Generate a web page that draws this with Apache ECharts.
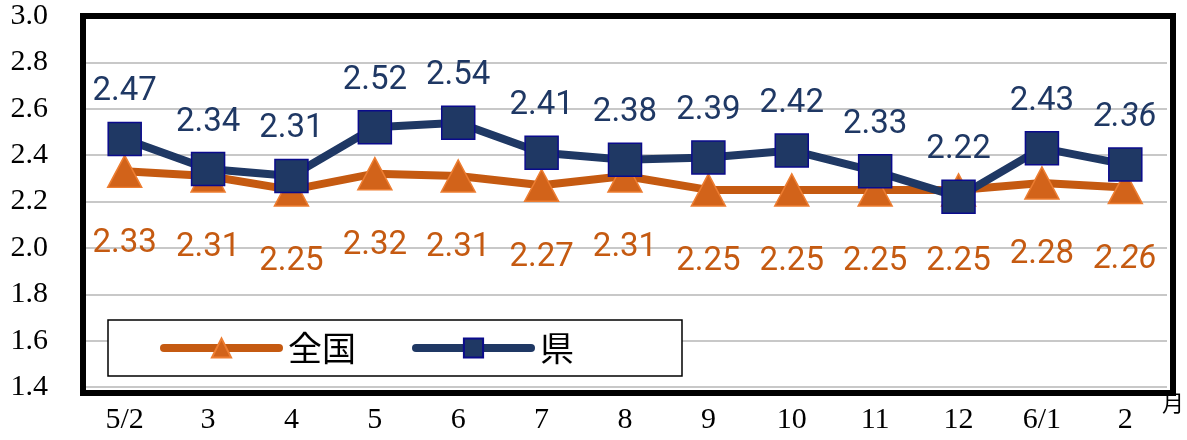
<!DOCTYPE html>
<html><head><meta charset="utf-8">
<script src="https://cdn.jsdelivr.net/npm/echarts@6/dist/echarts.min.js"></script>
<style>html,body{margin:0;padding:0;background:#fff}#c{width:1187px;height:440px}</style>
</head><body><div id="c"></div>
<script>
const categories = ['5/2','3','4','5','6','7','8','9','10','11','12','6/1','2'];
const nationalValues = [2.33,2.31,2.25,2.32,2.31,2.27,2.31,2.25,2.25,2.25,2.25,2.28,2.26];
const prefValues = [2.47,2.34,2.31,2.52,2.54,2.41,2.38,2.39,2.42,2.33,2.22,2.43,2.36];
const yTicks = {min:1.4, max:3.0, interval:0.2};
const seriesNames = ['全国','県'];

const ORANGE = '#C55A11', BLUE = '#1F3864';
const LABEL_FONT = 'Roboto';
function items(vals){
  return vals.map((v,i)=> i===vals.length-1 ? {value:v, label:{fontStyle:'italic'}} : v);
}
const chart = echarts.init(document.getElementById('c'));
chart.setOption({
  animation:false,
  grid:{left:83,right:20,top:16,bottom:53,show:false},
  xAxis:{type:'category',data:categories,boundaryGap:true,
    axisLine:{show:false},axisTick:{show:false},
    axisLabel:{margin:18,color:'#000',fontFamily:'Liberation Serif',fontSize:30}},
  yAxis:{type:'value',min:yTicks.min,max:yTicks.max,interval:yTicks.interval,
    axisLine:{show:false},axisTick:{show:false},
    splitLine:{lineStyle:{color:'#c8c8c8',width:2}},
    axisLabel:{margin:35,color:'#000',fontFamily:'Liberation Serif',fontSize:30,formatter:v=>v.toFixed(1)}},
  legend:{left:108,top:320,orient:'horizontal',
    backgroundColor:'#fff',borderColor:'#000',borderWidth:1.5,
    padding:[11,108,11,52],itemGap:56,itemWidth:115,itemHeight:24,
    lineStyle:{width:8,cap:'round'},
    textStyle:{fontFamily:'Noto Sans CJK JP',fontSize:34,color:'#000',fontWeight:'normal',padding:[0,0,0,4]},
    data:seriesNames},
  graphic:[
    {type:'rect',left:80,top:13,z:100,silent:true,
     shape:{width:1090,height:377},
     style:{fill:'none',stroke:'#000',lineWidth:6}},
    {type:'text',left:1162,top:392,style:{text:'月',fontFamily:'Noto Sans CJK JP',fontSize:22,fill:'#000'}}],
  series:[
    {name:seriesNames[0],type:'line',data:items(nationalValues),
     lineStyle:{color:ORANGE,width:8,cap:'round'},
     symbol:'triangle',symbolSize:[34,32],
     itemStyle:{color:'#D2631A',borderColor:'#ED7D31',borderWidth:1.5},
     label:{show:true,position:'bottom',distance:39,color:ORANGE,fontFamily:LABEL_FONT,fontSize:33,formatter:p=>p.value.toFixed(2)},
     z:2},
    {name:seriesNames[1],type:'line',data:items(prefValues),
     lineStyle:{color:BLUE,width:8,cap:'round'},
     symbol:'rect',symbolSize:33,
     itemStyle:{color:BLUE,borderColor:'#0B0B8C',borderWidth:1.5},
     label:{show:true,position:'top',distance:13,color:BLUE,fontFamily:LABEL_FONT,fontSize:33,formatter:p=>p.value.toFixed(2)},
     z:3}
  ]
});
</script></body></html>
